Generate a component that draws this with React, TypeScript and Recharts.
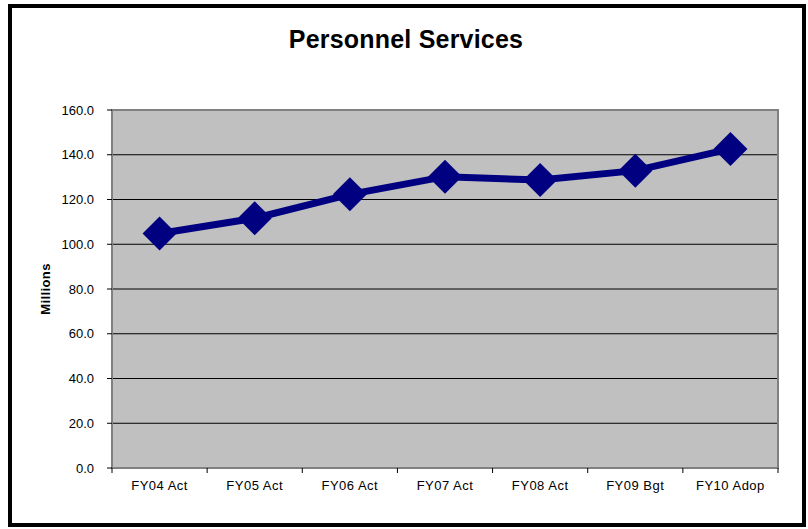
import React from 'react';
import {
  LineChart,
  Line,
  XAxis,
  YAxis,
  CartesianGrid,
  ReferenceArea
} from 'recharts';

const categories = ['FY04 Act', 'FY05 Act', 'FY06 Act', 'FY07 Act', 'FY08 Act', 'FY09 Bgt', 'FY10 Adop'];
const millions = [104.8, 111.6, 122.3, 130.2, 128.7, 132.9, 142.6];
const yTicks = [0, 20, 40, 60, 80, 100, 120, 140, 160];

const data = categories.map((name, i) => ({ name, value: millions[i] }));

const W = 808;
const H = 529;
const margin = { top: 110, right: 30, bottom: 31, left: 30 };
const Y_AXIS_W = 82;
const BAND = (W - margin.left - margin.right - Y_AXIS_W) / categories.length;
const FONT = 'Arial, "Liberation Sans", sans-serif';

const Diamond = (props: any) => {
  const { cx, cy } = props;
  if (cx == null || cy == null) return null;
  const r = 17;
  return (
    <polygon
      points={`${cx},${cy - r} ${cx + r},${cy} ${cx},${cy + r} ${cx - r},${cy}`}
      fill="#000080"
    />
  );
};

// category label plus Excel-style tick marks on the band edges
const CategoryTick = (props: any) => {
  const { x, y, payload, index } = props;
  const axisY = y - 13;
  const last = index === categories.length - 1;
  return (
    <g>
      <line x1={x - BAND / 2} x2={x - BAND / 2} y1={axisY} y2={axisY + 5} stroke="#000" />
      {last && <line x1={x + BAND / 2} x2={x + BAND / 2} y1={axisY} y2={axisY + 5} stroke="#000" />}
      <text
        x={x}
        y={y}
        dy="0.71em"
        textAnchor="middle"
        fontSize={13}
        fontFamily={FONT}
        letterSpacing={0.5}
        fill="#000"
      >
        {payload.value}
      </text>
    </g>
  );
};

export default function App() {
  return (
    <div style={{ position: 'absolute', left: 0, top: 0, width: W, height: H, background: '#fff' }}>
      <div
        style={{
          position: 'absolute',
          left: 8,
          top: 4,
          width: 790,
          height: 515,
          border: '4px solid #000'
        }}
      />
      <div
        style={{
          position: 'absolute',
          left: 2,
          top: 27,
          width: W,
          textAlign: 'center',
          fontFamily: FONT,
          fontWeight: 'bold',
          fontSize: 25,
          lineHeight: '25px',
          letterSpacing: 0.2,
          color: '#000'
        }}
      >
        Personnel Services
      </div>
      <div style={{ position: 'absolute', left: 0, top: 0 }}>
        <LineChart width={W} height={H} data={data} margin={margin}>
          <CartesianGrid
            vertical={false}
            stroke="#000"
            fill="#C0C0C0"
            fillOpacity={1}
          />
          <ReferenceArea y1={0} y2={160} fill="none" stroke="#808080" strokeWidth={2} ifOverflow="visible" />
          <XAxis
            dataKey="name"
            scale="band"
            axisLine={{ stroke: '#808080', strokeWidth: 2 }}
            tickLine={false}
            tickSize={5}
            tickMargin={8}
            height={30}
            interval={0}
            tick={<CategoryTick />}
          />
          <YAxis
            domain={[0, 160]}
            ticks={yTicks}
            width={Y_AXIS_W}
            tickFormatter={(v: number) => v.toFixed(1)}
            axisLine={{ stroke: '#808080', strokeWidth: 2 }}
            tickLine={{ stroke: '#000' }}
            tickSize={5}
            tickMargin={13}
            tick={{ fontSize: 13, fontFamily: FONT, fill: '#000' }}
            label={{
              value: 'Millions',
              angle: -90,
              position: 'insideLeft',
              offset: 15,
              style: {
                fontSize: 13,
                fontWeight: 'bold',
                fontFamily: FONT,
                fill: '#000',
                textAnchor: 'middle',
                letterSpacing: 0.4
              }
            }}
          />
          <Line
            type="linear"
            dataKey="value"
            stroke="#000080"
            strokeWidth={7}
            dot={<Diamond />}
            activeDot={false}
            isAnimationActive={false}
          />
        </LineChart>
      </div>
    </div>
  );
}
